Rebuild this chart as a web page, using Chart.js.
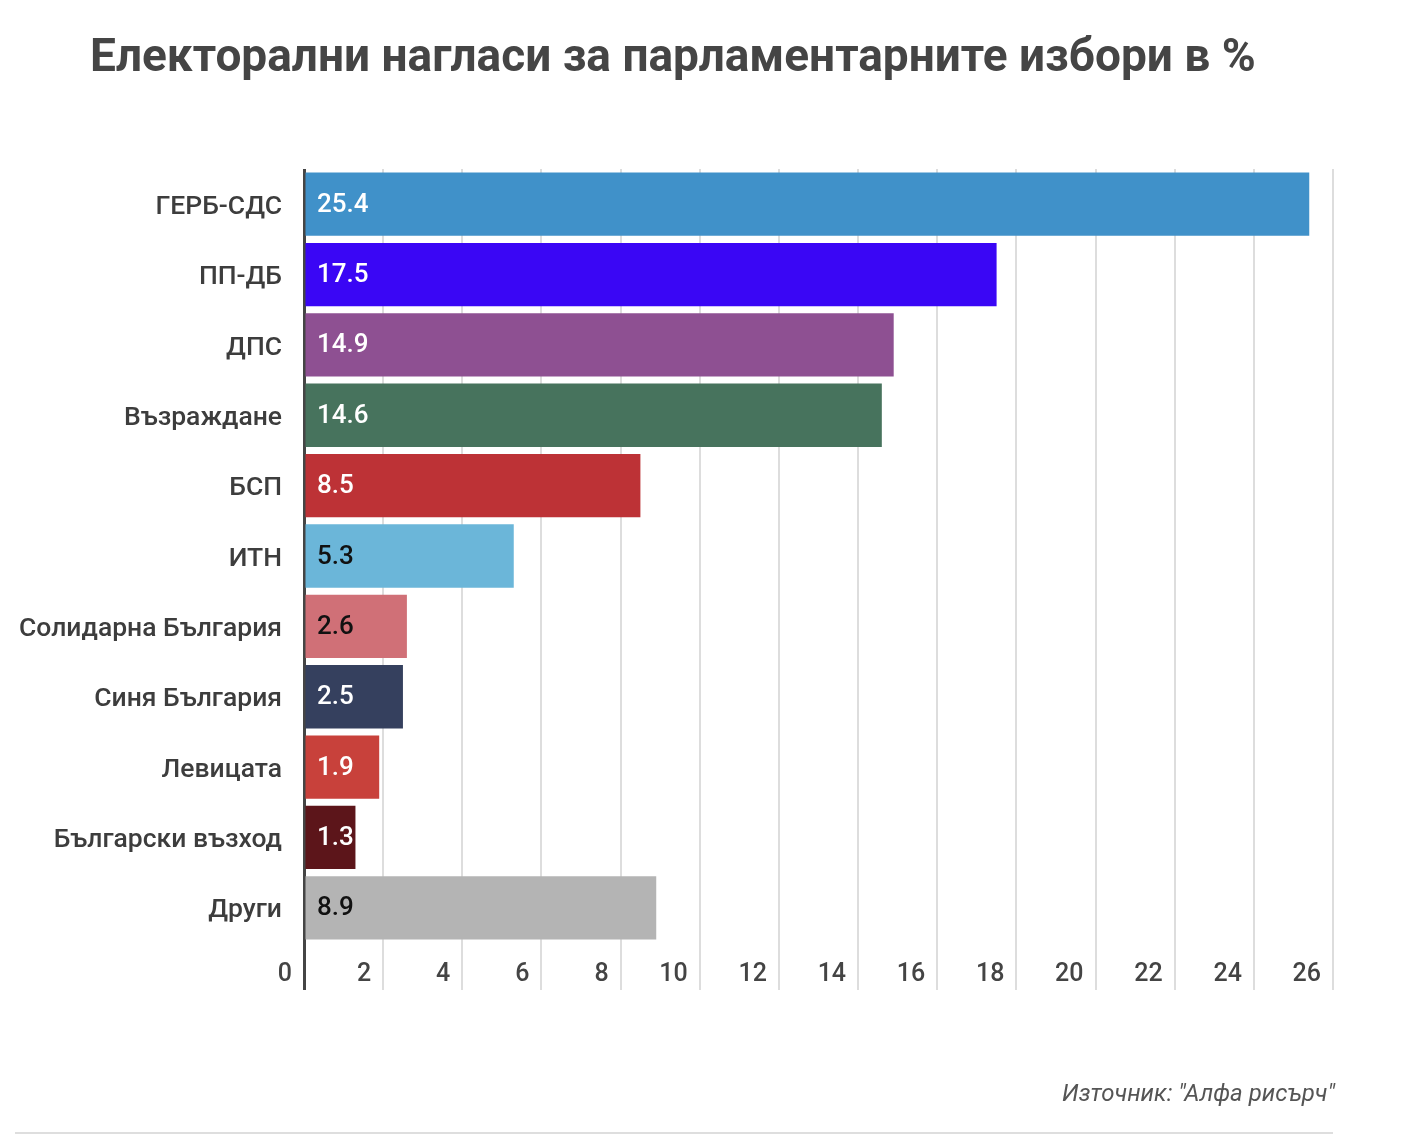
<!DOCTYPE html>
<html lang="bg">
<head>
<meta charset="utf-8">
<title>Електорални нагласи</title>
<script src="https://cdn.jsdelivr.net/npm/chart.js@4.4.1/dist/chart.umd.min.js"></script>
<style>
  body{margin:0;background:#fff;font-family:Roboto,'Noto Sans',sans-serif;}
  #wrap{position:relative;width:1420px;height:1148px;overflow:hidden;}
  #chart{position:absolute;left:0;top:0;}
  #title{position:absolute;left:90px;top:32px;font-size:46px;line-height:46px;font-weight:700;color:#454545;white-space:nowrap;}
  #source{position:absolute;right:85px;top:1081px;font-size:24px;line-height:24px;font-style:italic;color:#555;white-space:nowrap;}
  #rule{position:absolute;left:15px;top:1132px;width:1318px;height:2px;background:#dedede;}
</style>
</head>
<body>
<div id="wrap">
  <canvas id="chart" width="1420" height="1148"></canvas>
  <div id="title">Електорални нагласи за парламентарните избори в %</div>
  <div id="source">Източник: "Алфа рисърч"</div>
  <div id="rule"></div>
</div>
<script>
// данни
const categories=['ГЕРБ-СДС','ПП-ДБ','ДПС','Възраждане','БСП','ИТН','Солидарна България','Синя България','Левицата','Български възход','Други'];
const values=[25.4,17.5,14.9,14.6,8.5,5.3,2.6,2.5,1.9,1.3,8.9];
const barColors=['#4091c9','#3a06f5','#8e5092','#47735d','#bd3236','#6bb6d9','#d07077','#35405e','#c8413b','#5c151a','#b4b4b4'];
const valueColors=['#fff','#fff','#fff','#fff','#fff','#111','#111','#fff','#fff','#fff','#111'];
const xTicks=[0,2,4,6,8,10,12,14,16,18,20,22,24,26];

const FONT='Roboto, "Noto Sans", sans-serif';

// стойностите вътре в лентите
const valueLabels={
  id:'valueLabels',
  afterDatasetsDraw(chart){
    const ctx=chart.ctx;const meta=chart.getDatasetMeta(0);
    ctx.save();
    ctx.font='500 26px '+FONT;ctx.textAlign='left';ctx.textBaseline='middle';
    meta.data.forEach((bar,i)=>{
      ctx.fillStyle=valueColors[i];
      ctx.fillText(values[i].toFixed(1),chart.chartArea.left+13,bar.y+1);
    });
    ctx.restore();
  }
};

// надписите на оста x, вляво от линиите
const xLabels={
  id:'xLabels',
  afterDraw(chart){
    const ctx=chart.ctx;const sx=chart.scales.x;
    ctx.save();
    ctx.font='500 25px '+FONT;ctx.textAlign='right';ctx.textBaseline='middle';ctx.fillStyle='#444';
    sx.ticks.forEach(t=>{ctx.fillText(String(t.value),sx.getPixelForValue(t.value)-12,975);});
    ctx.restore();
  }
};

new Chart(document.getElementById('chart'),{
  type:'bar',
  data:{labels:categories,datasets:[{data:values,backgroundColor:barColors,borderWidth:0,barPercentage:0.9,categoryPercentage:1.0}]},
  options:{
    indexAxis:'y',responsive:false,animation:false,
    layout:{padding:{top:169,bottom:158,left:0,right:87}},
    plugins:{legend:{display:false},tooltip:{enabled:false}},
    scales:{
      x:{
        min:0,max:26,
        afterBuildTicks:s=>{s.ticks=xTicks.map(v=>({value:v}));},
        grid:{
          color:c=>(c.tick&&c.tick.value===0)?'#454545':'#dddddd',
          lineWidth:c=>(c.tick&&c.tick.value===0)?3:2,
          drawTicks:true,tickLength:47
        },
        border:{display:false},
        ticks:{display:false},
        afterFit:s=>{s.height=47;}
      },
      y:{
        grid:{display:false,drawTicks:false},
        border:{display:false},
        ticks:{color:'#3d3d3d',font:{family:FONT,size:26.5,weight:'500'},padding:22,labelOffset:3,autoSkip:false},
        afterFit:s=>{s.width=304;}
      }
    }
  },
  plugins:[valueLabels,xLabels]
});
</script>
</body>
</html>
